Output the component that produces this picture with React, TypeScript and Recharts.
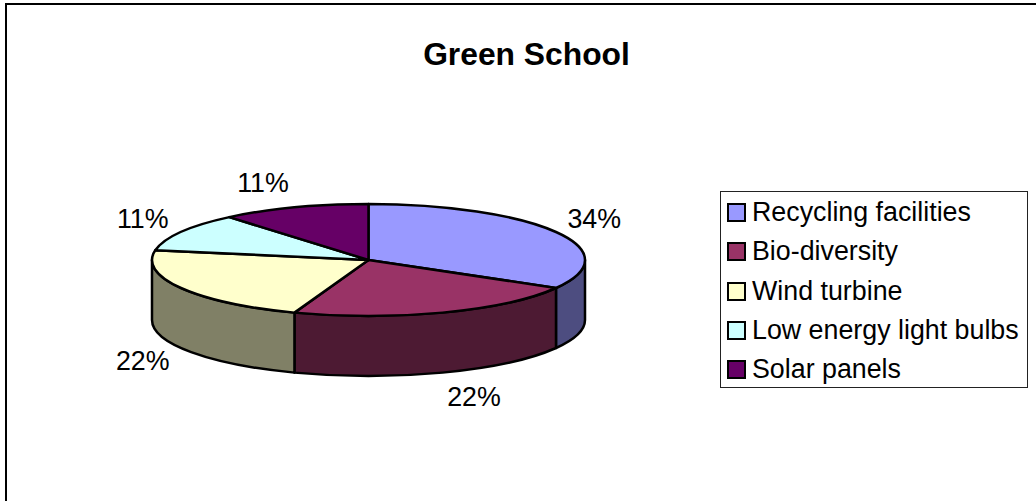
import React from "react";
import { PieChart, Pie, Cell, Legend } from "recharts";

const categories = ["Recycling facilities", "Bio-diversity", "Wind turbine", "Low energy light bulbs", "Solar panels"];
const values = [3, 2, 2, 1, 1];
const percentLabels = ["34%", "22%", "22%", "11%", "11%"];
const topColors = ["#9999FF", "#993366", "#FFFFCC", "#CCFFFF", "#660066"];
const wallColors = ["#4D4D80", "#4D1A33", "#808066", "#668080", "#330033"];

const data = categories.map((name, i) => ({ name, value: values[i] }));

const FONT = "'Liberation Sans', Arial, sans-serif";
const SQUASH = 56 / 216.5;
const DEPTH = 60;
const RAD = Math.PI / 180;
const STROKE = 2.5;

const pt = (cx: number, cy: number, r: number, a: number) => [
  cx + r * Math.cos(a * RAD),
  cy - r * SQUASH * Math.sin(a * RAD),
];

function TopSlice(props: any) {
  const { cx, cy, outerRadius: r, startAngle, endAngle, fill } = props;
  const [x0, y0] = pt(cx, cy, r, startAngle);
  const [x1, y1] = pt(cx, cy, r, endAngle);
  const large = Math.abs(endAngle - startAngle) > 180 ? 1 : 0;
  const d = `M${cx},${cy}L${x0},${y0}A${r},${r * SQUASH} 0 ${large} 1 ${x1},${y1}Z`;
  return <path d={d} fill={fill} stroke="#000" strokeWidth={STROKE} strokeLinejoin="round" />;
}

function WallSlice(props: any) {
  const { cx, cy, outerRadius: r, startAngle, endAngle, fill } = props;
  // Only the front half of the rim (screen-lower half of the ellipse) is visible.
  const a = Math.min(startAngle, 0);
  const b = Math.max(endAngle, -180);
  if (a <= b) return <g />;
  const [x0, y0] = pt(cx, cy, r, a);
  const [x1, y1] = pt(cx, cy, r, b);
  const rr = `${r},${r * SQUASH}`;
  const d = `M${x0},${y0}A${rr} 0 0 1 ${x1},${y1}L${x1},${y1 + DEPTH}A${rr} 0 0 0 ${x0},${y0 + DEPTH}Z`;
  return <path d={d} fill={fill} stroke="#000" strokeWidth={STROKE} strokeLinejoin="round" />;
}

function PercentLabel(props: any) {
  const { cx, cy, outerRadius: r, midAngle, index } = props;
  const c = Math.cos(midAngle * RAD);
  const s = Math.sin(midAngle * RAD);
  const [x, y] = pt(cx, cy, r, midAngle);
  const lx = x + Math.sign(c) * (27 + 13 * Math.abs(c));
  const ly = y + (s < 0 ? DEPTH : 0) - s * 26;
  return (
    <text x={lx} y={ly} textAnchor="middle" dominantBaseline="central" fontFamily={FONT} fontSize={26.8} fill="#000">
      {percentLabels[index]}
    </text>
  );
}

function LegendBox(props: any) {
  const items = (props.payload || []).filter((it: any) => topColors.includes(it.color));
  const ordered = categories.map((c) => items.find((it: any) => it.value === c)).filter(Boolean);
  return (
    <div
      style={{
        width: 308,
        height: 197,
        boxSizing: "border-box",
        border: "1.5px solid #222",
        background: "#fff",
        fontFamily: FONT,
        fontSize: 26.8,
        color: "#000",
        paddingTop: 1,
      }}
    >
      {ordered.map((it: any) => (
        <div key={it.value} style={{ display: "flex", alignItems: "center", height: 39.3, whiteSpace: "nowrap" }}>
          <span
            style={{
              display: "inline-block",
              boxSizing: "border-box",
              width: 19,
              height: 19,
              marginLeft: 6,
              marginRight: 6,
              border: "2.5px solid #000",
              background: it.color,
            }}
          />
          <span>{it.value}</span>
        </div>
      ))}
    </div>
  );
}

export default function App() {
  return (
    <div style={{ position: "absolute", left: 0, top: 0, width: 1036, height: 501, background: "#fff", overflow: "hidden" }}>
      <div style={{ position: "absolute", left: 5, top: 3, width: 1031, height: 498, boxSizing: "border-box", borderLeft: "2px solid #000", borderTop: "2px solid #000" }} />
      <PieChart width={1036} height={501} margin={{ top: 0, right: 0, bottom: 0, left: 0 }}>
        <text x={526.5} y={54} textAnchor="middle" dominantBaseline="central" fontFamily={FONT} fontWeight="bold" fontSize={31.8} fill="#000">
          Green School
        </text>
        <Pie
          data={data}
          dataKey="value"
          nameKey="name"
          cx={368.5}
          cy={260}
          outerRadius={216.5}
          startAngle={90}
          endAngle={-270}
          legendType="none"
          shape={WallSlice}
          isAnimationActive={false}
        >
          {data.map((d, i) => (
            <Cell key={d.name} fill={wallColors[i]} />
          ))}
        </Pie>
        <Pie
          data={data}
          dataKey="value"
          nameKey="name"
          cx={368.5}
          cy={260}
          outerRadius={216.5}
          startAngle={90}
          endAngle={-270}
          shape={TopSlice}
          label={PercentLabel}
          labelLine={false}
          isAnimationActive={false}
        >
          {data.map((d, i) => (
            <Cell key={d.name} fill={topColors[i]} />
          ))}
        </Pie>
        <Legend
          content={LegendBox}
          wrapperStyle={{ position: "absolute", left: 720, top: 191, width: 308, height: 197, bottom: "auto", right: "auto" }}
        />
      </PieChart>
    </div>
  );
}
